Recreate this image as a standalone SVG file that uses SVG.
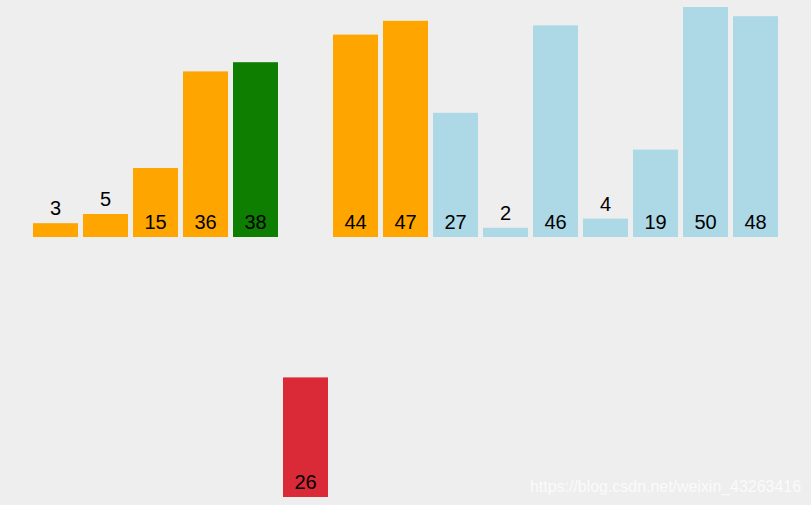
<svg xmlns="http://www.w3.org/2000/svg" width="811" height="505" viewBox="0 0 811 505">
<style>
.bg{fill:#eeeeee}
.o{fill:#ffa500}
.g{fill:#0d7e00}
.b{fill:#add8e6}
.r{fill:#da2a38}
text{font-family:"Liberation Sans",Arial,sans-serif;font-size:20px;fill:#000;text-anchor:middle}
.wm{font-size:16px;fill:#ffffff;fill-opacity:0.75;text-anchor:start}
</style>
<rect class="bg" x="0" y="0" width="811" height="505"/>
<g id="bars">
<g id="bar-3"><rect class="o" x="33" y="223.2" width="45" height="13.8"/><text x="55.5" y="215">3</text></g>
<g id="bar-5"><rect class="o" x="83" y="214" width="45" height="23"/><text x="105.5" y="206">5</text></g>
<g id="bar-15"><rect class="o" x="133" y="168" width="45" height="69"/><text x="155.5" y="229">15</text></g>
<g id="bar-36"><rect class="o" x="183" y="71.4" width="45" height="165.6"/><text x="205.5" y="229">36</text></g>
<g id="bar-38"><rect class="g" x="233" y="62.2" width="45" height="174.8"/><text x="255.5" y="229">38</text></g>
<g id="bar-44"><rect class="o" x="333" y="34.6" width="45" height="202.4"/><text x="355.5" y="229">44</text></g>
<g id="bar-47"><rect class="o" x="383" y="20.8" width="45" height="216.2"/><text x="405.5" y="229">47</text></g>
<g id="bar-27"><rect class="b" x="433" y="112.8" width="45" height="124.2"/><text x="455.5" y="229">27</text></g>
<g id="bar-2"><rect class="b" x="483" y="227.8" width="45" height="9.2"/><text x="505.5" y="220">2</text></g>
<g id="bar-46"><rect class="b" x="533" y="25.4" width="45" height="211.6"/><text x="555.5" y="229">46</text></g>
<g id="bar-4"><rect class="b" x="583" y="218.6" width="45" height="18.4"/><text x="605.5" y="211">4</text></g>
<g id="bar-19"><rect class="b" x="633" y="149.6" width="45" height="87.4"/><text x="655.5" y="229">19</text></g>
<g id="bar-50"><rect class="b" x="683" y="7" width="45" height="230"/><text x="705.5" y="229">50</text></g>
<g id="bar-48"><rect class="b" x="733" y="16.2" width="45" height="220.8"/><text x="755.5" y="229">48</text></g>
<g id="bar-26"><rect class="r" x="283" y="377.4" width="45" height="119.6"/><text x="305.5" y="489">26</text></g>
</g>
<g id="connectors"/>
<text class="wm" x="530" y="492" textLength="271" lengthAdjust="spacingAndGlyphs">https://blog.csdn.net/weixin_43263416</text>
</svg>
